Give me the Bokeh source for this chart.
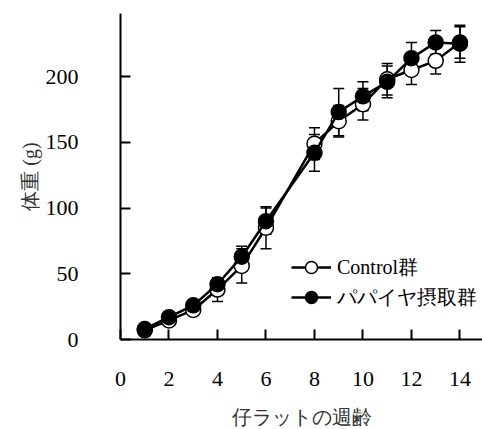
from bokeh.plotting import figure
from bokeh.models import ColumnDataSource, Range1d, Whisker, TeeHead, Legend, LegendItem, FixedTicker
from bokeh.embed import file_html
from bokeh.resources import INLINE

weeks = [1, 2, 3, 4, 5, 6, 8, 9, 10, 11, 12, 13, 14]
control = [7, 14.5, 22.5, 38, 56, 85, 149, 166, 179, 198, 205, 212, 226]
control_err = [1, 2, 2, 9, 13, 16, 12, 12, 12, 12, 11, 10, 12]
papaya = [8, 17, 26, 42, 63, 90, 142, 173, 185, 196, 214, 226, 225]
papaya_err = [1, 1, 2, 3, 8, 10, 14, 18, 11, 12, 12, 9, 14]
x_ticks = [0, 2, 4, 6, 8, 10, 12, 14]
y_ticks = [0, 50, 100, 150, 200]
label_control = "Control群"
label_papaya = "パパイヤ摂取群"
x_title = "仔ラットの週齢"
y_title = "体重 (g)"

FONT = "Liberation Serif"

src_c = ColumnDataSource(dict(x=weeks, y=control,
                              lo=[v - e for v, e in zip(control, control_err)],
                              hi=[v + e for v, e in zip(control, control_err)]))
src_p = ColumnDataSource(dict(x=weeks, y=papaya,
                              lo=[v - e for v, e in zip(papaya, papaya_err)],
                              hi=[v + e for v, e in zip(papaya, papaya_err)]))

p = figure(frame_width=362, frame_height=326, output_backend="svg", toolbar_location=None,
           x_range=Range1d(0, 14.93), y_range=Range1d(0, 248),
           min_border_left=120, min_border_top=13, min_border_right=0, min_border_bottom=10)
p.outline_line_color = None
p.grid.grid_line_color = None
p.background_fill_color = "white"

for ax in (p.xaxis[0], p.yaxis[0]):
    ax.axis_line_width = 2
    ax.axis_line_color = "black"
    ax.major_tick_in = 10
    ax.major_tick_out = 0
    ax.major_tick_line_width = 2
    ax.minor_tick_in = 0
    ax.minor_tick_out = 0
    ax.major_label_text_font = FONT
    ax.major_label_text_font_size = "22px"
    ax.major_label_text_color = "black"
    ax.axis_label_text_font = FONT
    ax.axis_label_text_font_size = "20px"
    ax.axis_label_text_font_style = "normal"
    ax.axis_label_text_color = "#333333"

p.xaxis.ticker = FixedTicker(ticks=x_ticks)
p.yaxis.ticker = FixedTicker(ticks=y_ticks)
p.xaxis.major_label_standoff = 32
p.yaxis.major_label_standoff = 42
p.xaxis.axis_label = x_title
p.yaxis.axis_label = y_title
p.xaxis.axis_label_standoff = 17
p.yaxis.axis_label_standoff = 2

for src in (src_c, src_p):
    w = Whisker(base="x", upper="hi", lower="lo", source=src, line_width=1.5, line_color="black",
                upper_head=TeeHead(size=11, line_width=1.5), lower_head=TeeHead(size=11, line_width=1.5),
                level="underlay")
    p.add_layout(w)

lc = p.line("x", "y", source=src_c, line_width=2.5, line_color="black")
sc = p.scatter("x", "y", source=src_c, size=15, fill_color="white", line_color="black", line_width=1.5)
lp = p.line("x", "y", source=src_p, line_width=2.5, line_color="black")
sp = p.scatter("x", "y", source=src_p, size=15, fill_color="black", line_color="black", line_width=1.5)

legend = Legend(items=[LegendItem(label=label_control, renderers=[lc, sc]),
                       LegendItem(label=label_papaya, renderers=[lp, sp])],
                location=(171, 27), padding=0, margin=0, spacing=0,
                glyph_width=40, glyph_height=30, label_height=30, label_standoff=6,
                label_text_font=FONT, label_text_font_size="20px", label_text_color="black",
                border_line_color=None, background_fill_alpha=0)
p.add_layout(legend)

open("out.html", "w").write(file_html(p, INLINE))
